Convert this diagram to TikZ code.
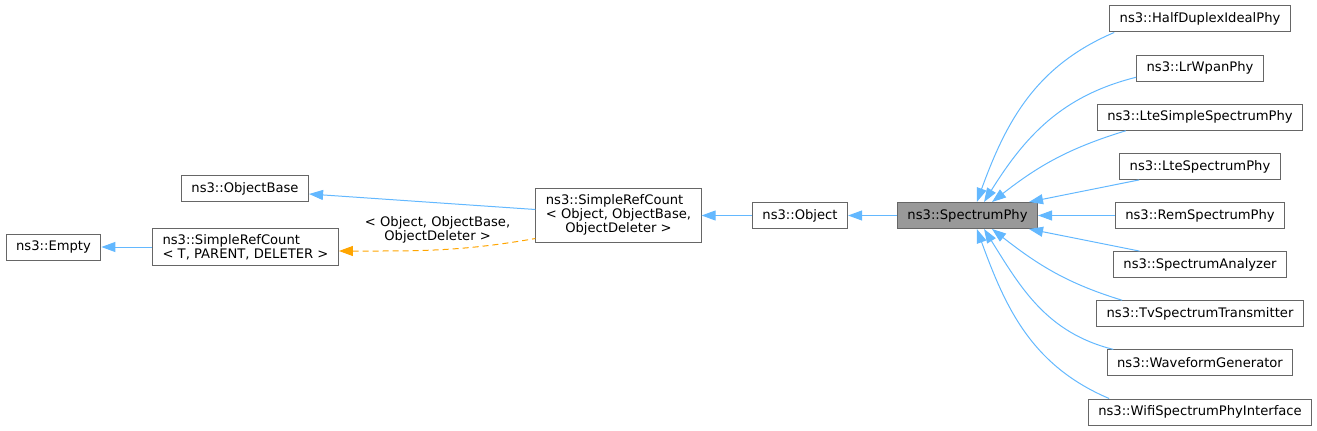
\documentclass[tikz,border=0pt]{standalone}
\usepackage{fontspec}
\setmainfont{DejaVu Sans}
\usetikzlibrary{arrows.meta}
\definecolor{edgeblue}{HTML}{63B8FF}
\definecolor{tmplorange}{HTML}{FFA500}
\definecolor{boxgray}{HTML}{666666}
\definecolor{curfill}{HTML}{999999}

\begin{document}
\begin{tikzpicture}[x=0.75pt,y=-0.75pt]
    \tikzstyle{every node}=[font={\fontsize{9.85}{10.5}\selectfont}]
    \tikzstyle{cls}=[draw=boxgray, line width=0.75pt, fill=white, inner xsep=7.5pt, inner ysep=4.5pt, minimum height=19.5pt]
    \tikzstyle{inh}=[draw=edgeblue, line width=0.75pt, {Triangle[length=10.5pt,width=7.5pt]}-]
    \tikzstyle{tmpl}=[draw=tmplorange, line width=0.75pt, dash pattern=on 4.5pt off 3pt, {Triangle[length=10.5pt,width=7.5pt]}-]
    \useasboundingbox (0,0) rectangle (1317,431);

    \node[cls] (empty) at (53.5,247) {ns3::Empty};
    \node[cls, align=left] (srcT) at (245.5,247) {ns3::SimpleRefCount\\< T, PARENT, DELETER >};
    \node[cls] (obase) at (245,189) {ns3::ObjectBase};
    \node[cls] (srcO) at (618.5,215.5) {\begin{tabular}{@{}l@{}}ns3::SimpleRefCount\\< Object, ObjectBase,\\\multicolumn{1}{@{}c@{}}{ObjectDeleter >}\end{tabular}};
    \node[cls] (object) at (800,215.5) {ns3::Object};
    \node[cls, fill=curfill] (sp) at (967.5,215.5) {ns3::SpectrumPhy};

    \node[cls] (half) at (1200,19) {ns3::HalfDuplexIdealPhy};
    \node[cls] (lrwpan) at (1200,68.1) {ns3::LrWpanPhy};
    \node[cls] (ltesimple) at (1200,117.25) {ns3::LteSimpleSpectrumPhy};
    \node[cls] (ltespec) at (1200,166.4) {ns3::LteSpectrumPhy};
    \node[cls] (rem) at (1200,215.5) {ns3::RemSpectrumPhy};
    \node[cls] (analyzer) at (1200,264.6) {ns3::SpectrumAnalyzer};
    \node[cls] (tvtx) at (1200,313.75) {ns3::TvSpectrumTransmitter};
    \node[cls] (wavegen) at (1200,362.9) {ns3::WaveformGenerator};
    \node[cls] (wifi) at (1200,412) {ns3::WifiSpectrumPhyInterface};

    % left part
    \draw[inh] (empty) -- (srcT);
    \draw[inh] ([yshift=-3.75pt]obase.east) -- ([yshift=4.5pt]srcO.west);
    \draw[tmpl] ([yshift=-3pt]srcT.east) to[out=0,in=190]
        node[above=4.5pt, inner sep=0pt, align=center] {< Object, ObjectBase,\\ObjectDeleter >}
        ([yshift=-17.25pt]srcO.west);
    \draw[inh] (srcO) -- (object);
    \draw[inh] (object) -- (sp);

    % derived classes
    \draw[inh] ([xshift=7pt]sp.north) to[out=70,in=203] ([xshift=3.75pt]half.south west);
    \draw[inh] ([xshift=12.4pt]sp.north) to[out=58,in=194] ([yshift=3.25pt]lrwpan.south west);
    \draw[inh] ([xshift=18.4pt]sp.north) to[out=38,in=197] ([xshift=21.75pt]ltesimple.south west);
    \draw[inh] ([xshift=-6.75pt]sp.north east) -- ([xshift=15pt]ltespec.south west);
    \draw[inh] (sp) -- (rem);
    \draw[inh] ([xshift=-6.75pt]sp.south east) -- ([xshift=20pt]analyzer.north west);
    \draw[inh] ([xshift=18.4pt]sp.south) to[out=-38,in=163] ([xshift=19.5pt]tvtx.north west);
    \draw[inh] ([xshift=12.4pt]sp.south) to[out=-58,in=166] ([xshift=5pt]wavegen.north west);
    \draw[inh] ([xshift=7pt]sp.south) to[out=-70,in=157] ([xshift=16pt]wifi.north west);
\end{tikzpicture}
\end{document}
